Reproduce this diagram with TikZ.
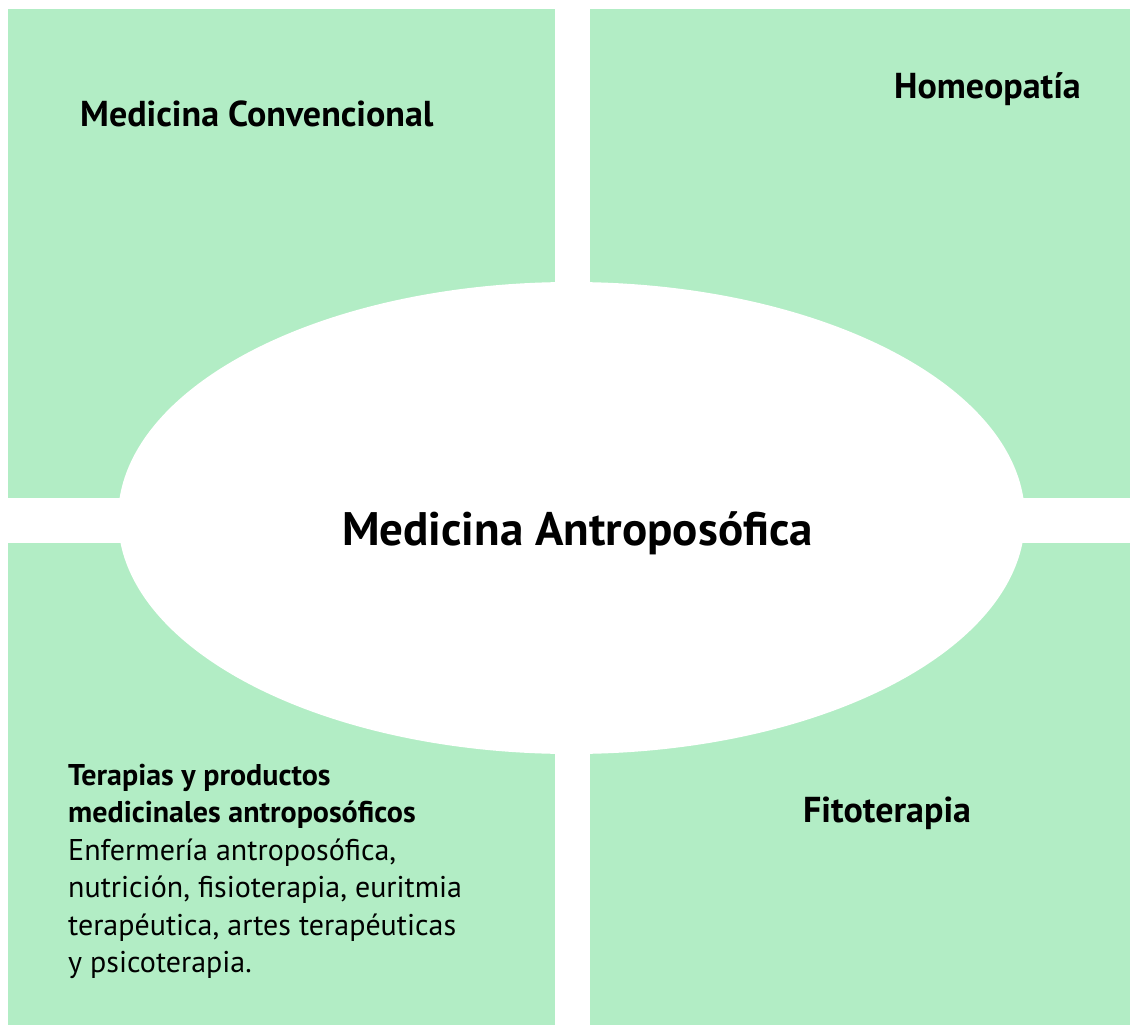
\documentclass[tikz,border=0pt]{standalone}
\usepackage{fontspec}
\setmainfont{PT Sans}
\usetikzlibrary{shapes.geometric}
\definecolor{mintgreen}{HTML}{B2EDC5}
\begin{document}
\begin{tikzpicture}[x=1pt,y=-1pt,line join=round,
	quad/.style={fill=mintgreen},
	label/.style={inner sep=0pt,font=\fontsize{36}{40}\selectfont\bfseries},
	body/.style={inner sep=0pt,align=left,font=\fontsize{30}{37.4}\selectfont}]
	\useasboundingbox (0,0) rectangle (1130,1025);
	\path
	(8,9)coordinate (A)
	+(547,489)coordinate (A')
	(590,9)coordinate (B)
	+(540,489)coordinate (B')
	(8,543)coordinate (C)
	+(547,482)coordinate (C')
	(590,543)coordinate (D)
	+(540,482)coordinate (D')
		;
	\foreach \q in {A,B,C,D} \fill[quad] (\q) rectangle (\q');
	\node[ellipse,fill=white,inner sep=0pt,minimum width=907pt,minimum height=472pt] (anthro) at (571.5,518) {};
	\node[inner sep=0pt,anchor=base,font=\fontsize{47}{50}\selectfont\bfseries] (anthrotext) at (577.5,545) {Medicina Antroposófica};
	\node[label,anchor=base west] (conv) at (80,126) {Medicina Convencional};
	\node[label,anchor=base east] (homeo) at (1081,99) {Homeopatía};
	\node[label,anchor=base west] (fito) at (803,822) {Fitoterapia};
	\node[body,anchor=north west] (thera) at (68,764) {\textbf{Terapias y productos}\\
		\textbf{medicinales antroposóficos}\\
		Enfermería antroposófica,\\
		nutrición, fisioterapia, euritmia\\
		terapéutica, artes terapéuticas\\
		y psicoterapia.};
\end{tikzpicture}
\end{document}
